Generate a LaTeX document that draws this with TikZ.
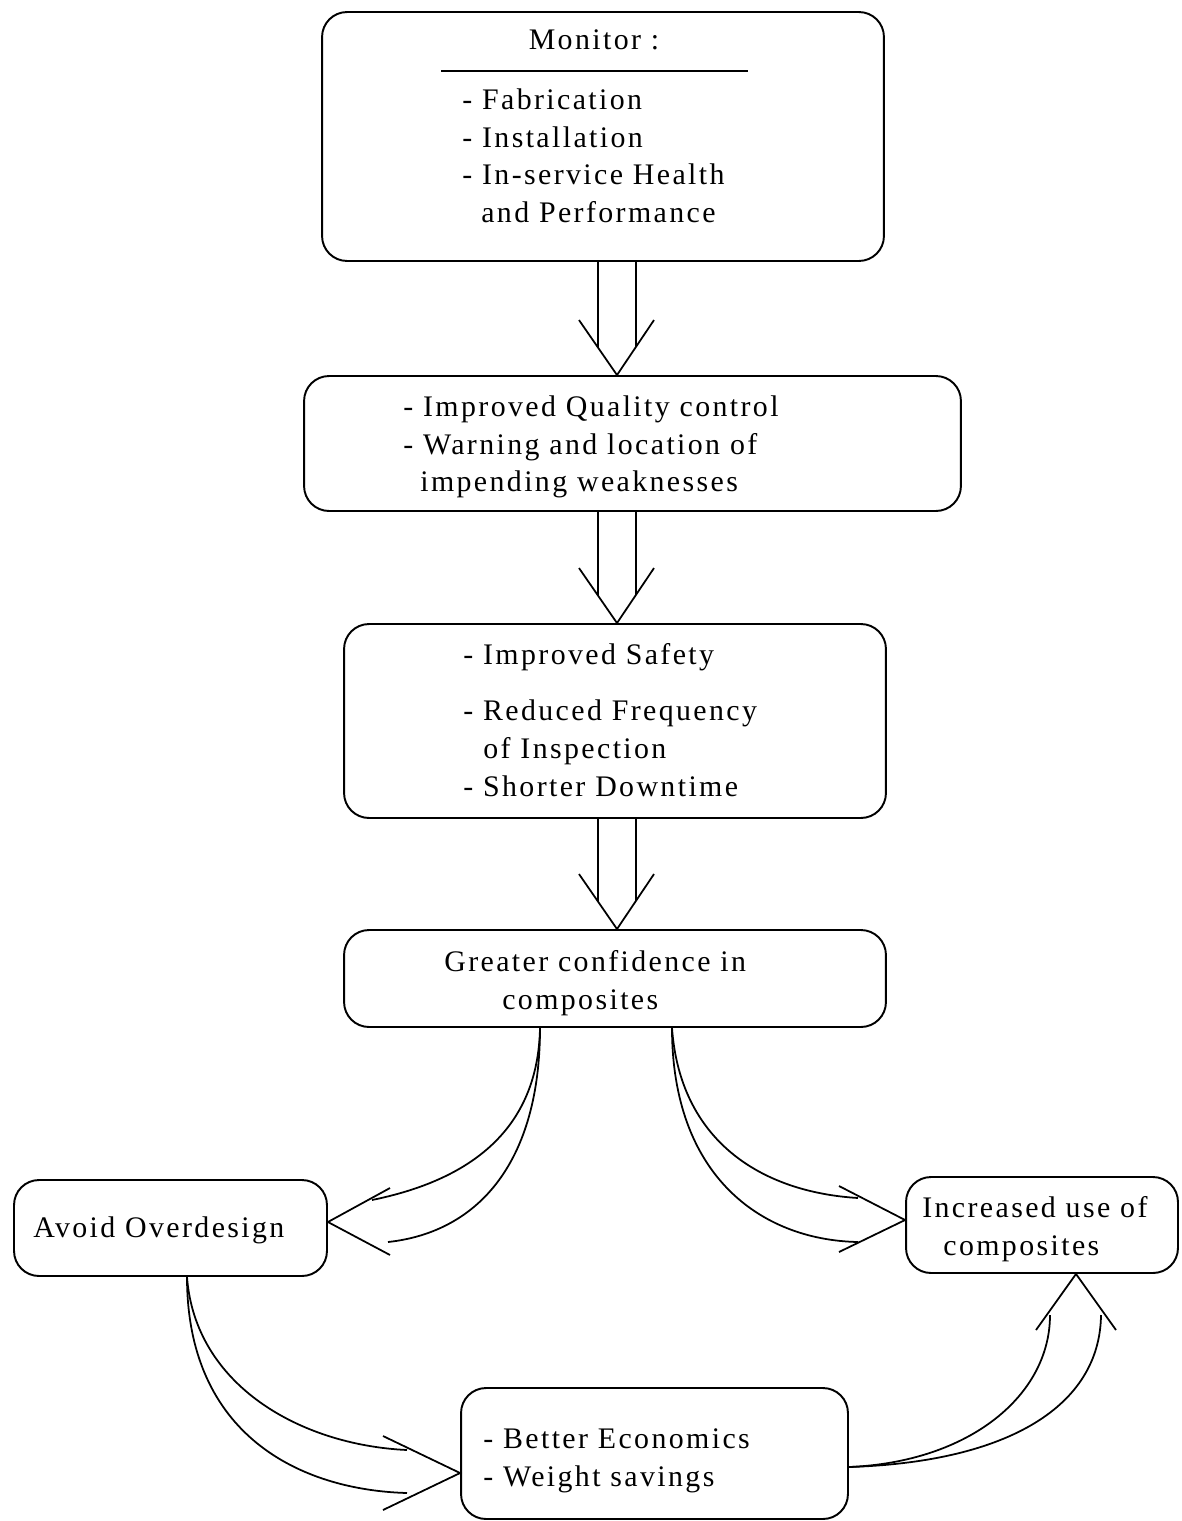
\documentclass[tikz,border=0pt]{standalone}
\usepackage{fontspec}
\setmainfont[LetterSpace=8]{Liberation Serif}
\usetikzlibrary{calc}

\tikzset{
  box/.style={draw, rounded corners=0.5cm, line width=1.1pt},
  txt/.style={font=\fontsize{17}{21.6}\selectfont, align=left, inner sep=0pt, anchor=north west},
  link/.style={line width=1pt}
}

\begin{document}
\begin{tikzpicture}[x=0.02cm, y=-0.02cm]
\useasboundingbox (0,0) rectangle (1181,1521);

% boxes
\node[box, minimum width=11.24cm, minimum height=4.98cm] (monitor) at (603,136.5) {};
\node[box, minimum width=13.14cm, minimum height=2.7cm] (quality) at (632.5,443.5) {};
\node[box, minimum width=10.84cm, minimum height=3.88cm] (safety) at (615,721) {};
\node[box, minimum width=10.84cm, minimum height=1.94cm] (conf) at (615,978.5) {};
\node[box, minimum width=6.26cm, minimum height=1.92cm] (avoid) at (170.5,1228) {};
\node[box, minimum width=5.44cm, minimum height=1.92cm] (incr) at (1042,1225) {};
\node[box, minimum width=7.74cm, minimum height=2.62cm] (econ) at (654.5,1453.5) {};

% texts
\node[txt, anchor=base] (monhead) at (594,50) {Monitor :};
\draw[line width=0.8pt] (441,71) -- (748,71);
\node[txt] (monlist) at (462,88) {- Fabrication\\- Installation\\- In-service Health\\\hspace*{0.38cm}and Performance};
\node[txt] (qualtxt) at (403,395) {- Improved Quality control\\- Warning and location of\\\hspace*{0.34cm}impending weaknesses};
\node[txt] (safetxt) at (463,643) {- Improved Safety\\[0.36cm]- Reduced Frequency\\\hspace*{0.4cm}of Inspection\\- Shorter Downtime};
\node[txt] (conftxt) at (444,950) {Greater confidence in\\\hspace*{1.16cm}composites};
\node[txt, anchor=base west] (avoidtxt) at (33,1237) {Avoid Overdesign};
\node[txt] (incrtxt) at (922,1196) {Increased use of\\\hspace*{0.42cm}composites};
\node[txt] (econtxt) at (483,1428) {- Better Economics\\- Weight savings};

% straight double arrows
\foreach \a/\b in {monitor/quality, quality/safety, safety/conf} {
  \draw[link] (\a.south -| 598,0) -- ($(\b.north -| 598,0)+(0,-28)$);
  \draw[link] (\a.south -| 636,0) -- ($(\b.north -| 636,0)+(0,-28)$);
  \draw[link] ($(\b.north -| 617,0)+(-38,-55)$) -- (\b.north -| 617,0) -- ($(\b.north -| 617,0)+(37,-55)$);
}

% curved double arrows
\coordinate (c1) at ($(conf.south)+(-75,0)$);
\coordinate (c2) at ($(conf.south)+(57,0)$);
\coordinate (c3) at ($(avoid.south)+(16.5,0)$);
\coordinate (c4) at ($(econ.east)+(0,13.5)$);

\draw[link] (c1) .. controls (538,1130) and (470,1180) .. (372,1200);
\draw[link] (c1) .. controls (540,1160) and (480,1232) .. (388,1242);
\draw[link] (390,1188) -- ($(avoid.east)+(0,-6)$) -- (390,1255);

\draw[link] (c2) .. controls (680,1140) and (760,1192) .. (858,1198);
\draw[link] (c2) .. controls (672,1175) and (760,1240) .. (858,1242);
\draw[link] (839,1186) -- ($(incr.west)+(0,-5)$) -- (839,1252);

\draw[link] (c3) .. controls (195,1385) and (300,1445) .. (407,1450);
\draw[link] (c3) .. controls (187,1435) and (300,1490) .. (407,1493);
\draw[link] (383,1436) -- ($(econ.west)+(0,19.5)$) -- (383,1510);

\draw[link] (c4) .. controls (970,1462) and (1050,1395) .. (1050,1315);
\draw[link] (c4) .. controls (1010,1462) and (1100,1405) .. (1101,1315);
\draw[link] (1036,1330) -- ($(incr.south)+(34,0)$) -- (1116,1330);
\end{tikzpicture}
\end{document}
